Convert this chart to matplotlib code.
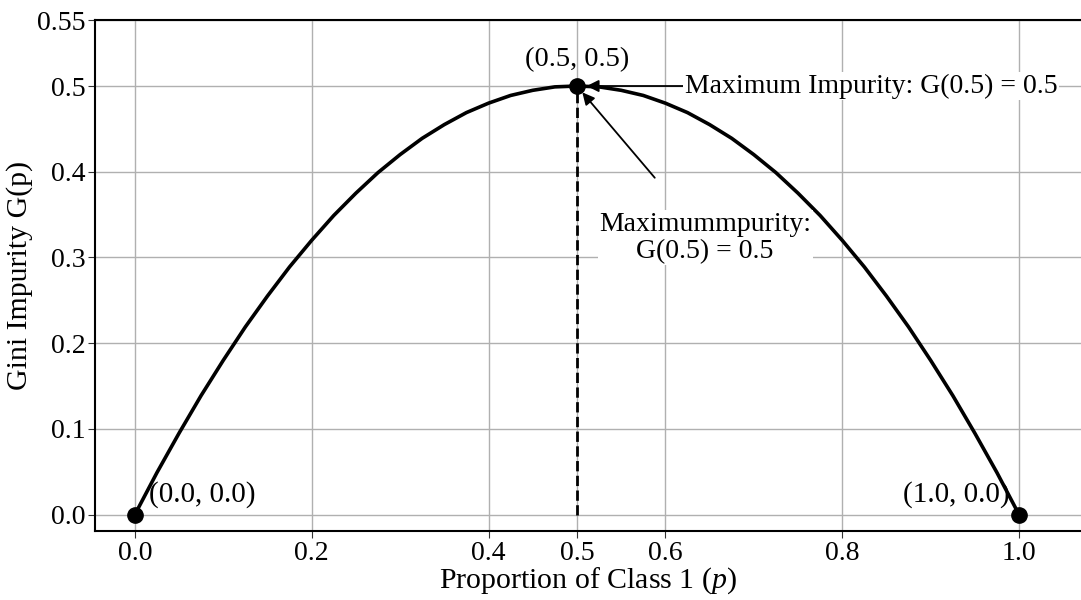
import matplotlib
matplotlib.use("Agg")
import matplotlib.pyplot as plt

plt.rcParams["font.family"] = ["Liberation Serif", "DejaVu Serif"]
plt.rcParams["mathtext.fontset"] = "custom"
plt.rcParams["mathtext.rm"] = "Liberation Serif"
plt.rcParams["mathtext.it"] = "Liberation Serif:italic"

# Gini impurity, p in steps of 0.025
p_values = [0.0, 0.025, 0.05, 0.075, 0.1, 0.125, 0.15, 0.175, 0.2, 0.225,
            0.25, 0.275, 0.3, 0.325, 0.35, 0.375, 0.4, 0.425, 0.45, 0.475,
            0.5, 0.525, 0.55, 0.575, 0.6, 0.625, 0.65, 0.675, 0.7, 0.725,
            0.75, 0.775, 0.8, 0.825, 0.85, 0.875, 0.9, 0.925, 0.95, 0.975, 1.0]
gini_values = [0.0, 0.049, 0.095, 0.139, 0.18, 0.219, 0.255, 0.289, 0.32, 0.349,
               0.375, 0.399, 0.42, 0.439, 0.455, 0.469, 0.48, 0.489, 0.495, 0.499,
               0.5, 0.499, 0.495, 0.489, 0.48, 0.469, 0.455, 0.439, 0.42, 0.399,
               0.375, 0.349, 0.32, 0.289, 0.255, 0.219, 0.18, 0.139, 0.095, 0.049, 0.0]

key_p = [0.0, 0.5, 1.0]
key_g = [0.0, 0.5, 0.0]

x_ticks = [0.0, 0.2, 0.4, 0.5, 0.6, 0.8, 1.0]
x_tick_labels = ["0.0", "0.2", "0.4", "0.5", "0.6", "0.8", "1.0"]
y_top = 0.577
y_ticks = [0.0, 0.1, 0.2, 0.3, 0.4, 0.5, y_top]
y_tick_labels = ["0.0", "0.1", "0.2", "0.3", "0.4", "0.5", "0.55"]

FS = 20
LABEL_FS = 21.5

fig = plt.figure(figsize=(10.81, 6.0), dpi=100)
ax = fig.add_axes([95 / 1081, 69 / 600, 1 - 95 / 1081, 511 / 600])

ax.plot(p_values, gini_values, color="black", linewidth=2.6, zorder=3)
ax.plot([0.5, 0.5], [0.0, 0.5], color="black", linestyle="--", linewidth=2, zorder=3)
ax.plot(key_p, key_g, "o", color="black", markersize=11, zorder=4)

ax.annotate("(0.5, 0.5)", (0.5, 0.5), xytext=(0, 10), textcoords="offset points",
            ha="center", va="bottom", fontsize=FS + 0.5)
ax.annotate("(0.0, 0.0)", (0.0, 0.0), xytext=(10, 5), textcoords="offset points",
            ha="left", va="bottom", fontsize=FS + 1)
ax.annotate("(1.0, 0.0)", (1.0, 0.0), xytext=(-7, 5), textcoords="offset points",
            ha="right", va="bottom", fontsize=FS + 1)

ax.annotate("Maximum Impurity: G(0.5) = 0.5", (0.5, 0.5), xytext=(0.622, 0.5),
            ha="left", va="center", fontsize=FS,
            bbox=dict(boxstyle="square,pad=0.05", fc="white", ec="none"),
            arrowprops=dict(arrowstyle="-|>", color="black", lw=1.3,
                            mutation_scale=18, shrinkA=0, shrinkB=7))
ax.text(0.645, 0.323, "Maximummpurity:\nG(0.5) = 0.5", ha="center", va="center",
        fontsize=FS, linespacing=1.1,
        bbox=dict(boxstyle="square,pad=0.05", fc="white", ec="none"))
ax.annotate("", (0.5, 0.5), xytext=(0.588, 0.393),
            arrowprops=dict(arrowstyle="-|>", color="black", lw=1.3,
                            mutation_scale=18, shrinkA=0, shrinkB=6))

ax.set_xlim(-0.045, 1.07)
ax.set_ylim(-0.019, y_top)
ax.set_xticks(x_ticks)
ax.set_xticklabels(x_tick_labels)
ax.set_yticks(y_ticks)
ax.set_yticklabels(y_tick_labels)
ax.tick_params(labelsize=FS, length=5, color="#333333", pad=2)
ax.set_xlabel("Proportion of Class 1 ($p$)", fontsize=LABEL_FS, labelpad=0)
ax.set_ylabel("Gini Impurity G(p)", fontsize=LABEL_FS, labelpad=3)
ax.grid(color="#b0b0b0", linewidth=1)
ax.set_axisbelow(True)
ax.spines["right"].set_visible(False)
for s in ["left", "top", "bottom"]:
    ax.spines[s].set_linewidth(1.5)

fig.savefig("out.png", dpi=100)
